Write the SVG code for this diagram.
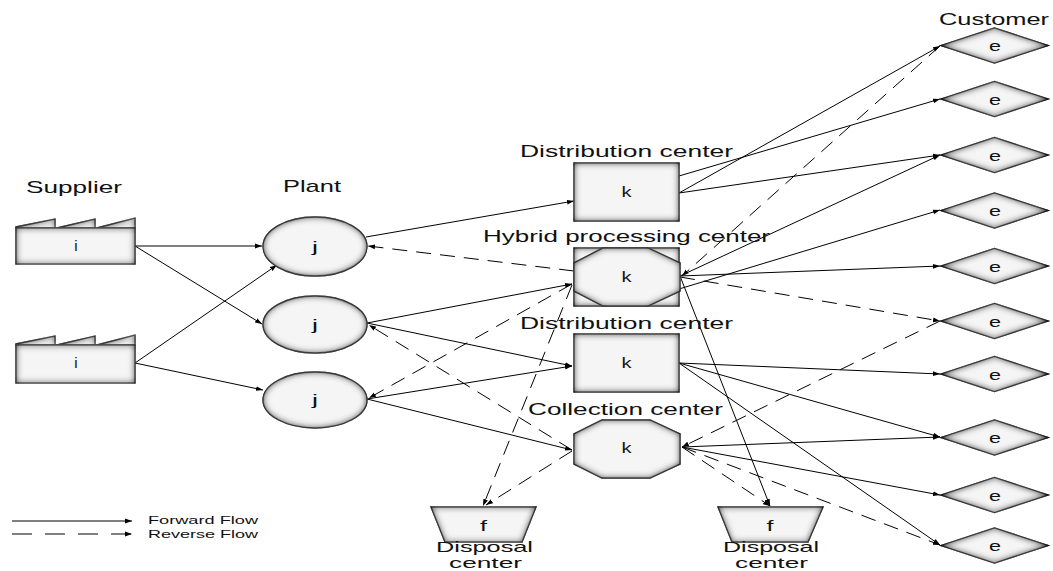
<svg xmlns="http://www.w3.org/2000/svg" width="1053" height="571" viewBox="0 0 1053 571">
  <defs>
    <filter id="inset" x="-10%" y="-10%" width="120%" height="120%">
      <feFlood flood-color="#000" result="c"/>
      <feComposite in="c" in2="SourceAlpha" operator="out" result="outside"/>
      <feGaussianBlur in="outside" stdDeviation="3.5" result="blur"/>
      <feComposite in="blur" in2="SourceAlpha" operator="in" result="shade"/>
      <feMerge>
        <feMergeNode in="SourceGraphic"/>
        <feMergeNode in="shade"/>
        <feMergeNode in="shade"/>
      </feMerge>
    </filter>
    <marker id="arrow" markerUnits="userSpaceOnUse" markerWidth="8" markerHeight="6" refX="7" refY="3" orient="auto">
      <path d="M0,0.6 L7,3 L0,5.4 Z" fill="#000"/>
    </marker>
    <style>
      .shape { fill: #f5f5f5; stroke: #666; stroke-width: 1.3; filter: url(#inset); }
      .edge { fill: none; stroke: #000; stroke-width: 1; }
      .fwd { marker-end: url(#arrow); }
      .rev { stroke-dasharray: 15 9; marker-end: url(#arrow); }
      .title { font-family: "Liberation Sans", Arial, sans-serif; font-size: 17px; fill: #111; }
      .small { font-size: 15px; }
      .lbl { font-family: "Liberation Sans", Arial, sans-serif; font-size: 15px; fill: #111; text-anchor: middle; }
      .legend { font-family: "Liberation Sans", Arial, sans-serif; font-size: 11px; fill: #111; }
    </style>
  </defs>

  <rect width="1053" height="571" fill="#fff"/>

  <!-- connectors -->
  <g id="connectors">
    <!-- suppliers to plants -->
    <path class="edge fwd" d="M135,246 L262,246"/>
    <path class="edge fwd" d="M135,246 L262,324"/>
    <path class="edge fwd" d="M135,363 L277,265"/>
    <path class="edge fwd" d="M135,363 L263,390"/>
    <!-- plants to centers -->
    <path class="edge fwd" d="M366,237 L574,201"/>
    <path class="edge fwd" d="M367,323 L572,284"/>
    <path class="edge fwd" d="M367,323 L572,366"/>
    <path class="edge fwd" d="M367,399 L572,366"/>
    <path class="edge fwd" d="M367,399 L572,450"/>
    <!-- centers to customers -->
    <path class="edge fwd" d="M679,193 L940,46"/>
    <path class="edge fwd" d="M679,176 L940,99"/>
    <path class="edge fwd" d="M679,193 L940,155"/>
    <path class="edge fwd" d="M680,276 L940,155"/>
    <path class="edge fwd" d="M679,289 L940,210"/>
    <path class="edge fwd" d="M680,276 L940,266"/>
    <path class="edge fwd" d="M680,276 L770,506"/>
    <path class="edge fwd" d="M679,363 L940,374"/>
    <path class="edge fwd" d="M679,363 L940,437"/>
    <path class="edge fwd" d="M679,363 L940,545"/>
    <path class="edge fwd" d="M682,447 L940,437"/>
    <path class="edge fwd" d="M682,447 L940,495"/>
    <!-- reverse flows -->
    <path class="edge rev" d="M574,271 L368,246"/>
    <path class="edge rev" d="M572,450 L369,325"/>
    <path class="edge rev" d="M572,284 L369,398"/>
    <path class="edge rev" d="M572,285 L483,506"/>
    <path class="edge rev" d="M572,451 L486,505"/>
    <path class="edge rev" d="M940,46 L682,276"/>
    <path class="edge rev" d="M680,277 L940,321"/>
    <path class="edge rev" d="M940,321 L682,447"/>
    <path class="edge rev" d="M682,447 L940,545"/>
    <path class="edge rev" d="M682,447 L770,506"/>
  </g>

  <!-- suppliers -->
  <g id="supplier-1">
    <path class="shape" d="M16,227 L55,219 L55,228 L57,228 L95,219 L95,228 L97,228 L135,218 L135,228 L16,228 Z"/>
    <rect class="shape" x="16" y="228" width="119" height="36"/>
    <text class="lbl" x="76" y="251">i</text>
  </g>
  <g id="supplier-2">
    <path class="shape" d="M16,344 L55,336 L55,345 L57,345 L95,336 L95,345 L97,345 L135,335 L135,345 L16,345 Z"/>
    <rect class="shape" x="16" y="345" width="119" height="38"/>
    <text class="lbl" x="76" y="368">i</text>
  </g>
  <text class="title" x="26" y="193" textLength="96" lengthAdjust="spacingAndGlyphs">Supplier</text>

  <!-- plants -->
  <g id="plant-1">
    <ellipse class="shape" cx="315" cy="246.5" rx="52" ry="29.5"/>
    <text class="lbl" x="315" y="252" textLength="6" lengthAdjust="spacingAndGlyphs">j</text>
  </g>
  <g id="plant-2">
    <ellipse class="shape" cx="315" cy="324.5" rx="52" ry="28.5"/>
    <text class="lbl" x="315" y="330" textLength="6" lengthAdjust="spacingAndGlyphs">j</text>
  </g>
  <g id="plant-3">
    <ellipse class="shape" cx="315" cy="400" rx="52" ry="28"/>
    <text class="lbl" x="315" y="405" textLength="6" lengthAdjust="spacingAndGlyphs">j</text>
  </g>
  <text class="title" x="283" y="192" textLength="58" lengthAdjust="spacingAndGlyphs">Plant</text>

  <!-- distribution center -->
  <g id="distribution-center-1">
    <text class="title" x="520" y="157" textLength="213" lengthAdjust="spacingAndGlyphs">Distribution center</text>
    <rect class="shape" x="574" y="163" width="105" height="58"/>
    <text class="lbl" x="626.5" y="197" textLength="10" lengthAdjust="spacingAndGlyphs">k</text>
  </g>

  <!-- hybrid processing center -->
  <g id="hybrid-center">
    <text class="title" x="483" y="242" textLength="287" lengthAdjust="spacingAndGlyphs">Hybrid processing center</text>
    <rect class="shape" x="574" y="248" width="105" height="58"/>
    <polygon class="shape" points="603,248 648,248 680,263 680,291 648,306 603,306 574,291 574,263"/>
    <text class="lbl" x="626.5" y="282" textLength="10" lengthAdjust="spacingAndGlyphs">k</text>
  </g>

  <!-- distribution center -->
  <g id="distribution-center-2">
    <text class="title" x="520" y="329" textLength="213" lengthAdjust="spacingAndGlyphs">Distribution center</text>
    <rect class="shape" x="574" y="334" width="105" height="58"/>
    <text class="lbl" x="626.5" y="368" textLength="10" lengthAdjust="spacingAndGlyphs">k</text>
  </g>

  <!-- collection center -->
  <g id="collection-center">
    <text class="title" x="528" y="415" textLength="195" lengthAdjust="spacingAndGlyphs">Collection center</text>
    <polygon class="shape" points="602,420 650,420 680,434 680,464 650,478 602,478 574,464 574,434"/>
    <text class="lbl" x="626.5" y="453" textLength="10" lengthAdjust="spacingAndGlyphs">k</text>
  </g>

  <!-- disposal centers -->
  <g id="disposal-1">
    <polygon class="shape" points="431,507 536,507 522,542 445,542"/>
    <text class="lbl" x="483.5" y="531" textLength="7" lengthAdjust="spacingAndGlyphs">f</text>
    <text class="title small" x="436" y="552" textLength="97" lengthAdjust="spacingAndGlyphs">Disposal</text>
    <text class="title small" x="449" y="567.5" textLength="73" lengthAdjust="spacingAndGlyphs">center</text>
  </g>
  <g id="disposal-2">
    <polygon class="shape" points="718,507 823,507 808,542 732,542"/>
    <text class="lbl" x="770" y="531" textLength="7" lengthAdjust="spacingAndGlyphs">f</text>
    <text class="title small" x="723" y="552" textLength="96" lengthAdjust="spacingAndGlyphs">Disposal</text>
    <text class="title small" x="735" y="567.5" textLength="73" lengthAdjust="spacingAndGlyphs">center</text>
  </g>

  <!-- customers -->
  <text class="title" x="939" y="25" textLength="110" lengthAdjust="spacingAndGlyphs">Customer</text>
  <g id="customer-1">
    <polygon class="shape" points="941,45.5 994.5,28 1048,45.5 994.5,63"/>
    <text class="lbl" x="995" y="51" textLength="12" lengthAdjust="spacingAndGlyphs">e</text>
  </g>
  <g id="customer-2">
    <polygon class="shape" points="941,99 994.5,81.5 1048,99 994.5,116.5"/>
    <text class="lbl" x="995" y="104.5" textLength="12" lengthAdjust="spacingAndGlyphs">e</text>
  </g>
  <g id="customer-3">
    <polygon class="shape" points="941,155 994.5,137.5 1048,155 994.5,172.5"/>
    <text class="lbl" x="995" y="160.5" textLength="12" lengthAdjust="spacingAndGlyphs">e</text>
  </g>
  <g id="customer-4">
    <polygon class="shape" points="941,210.5 994.5,193 1048,210.5 994.5,228"/>
    <text class="lbl" x="995" y="216" textLength="12" lengthAdjust="spacingAndGlyphs">e</text>
  </g>
  <g id="customer-5">
    <polygon class="shape" points="941,266 994.5,248.5 1048,266 994.5,283.5"/>
    <text class="lbl" x="995" y="271.5" textLength="12" lengthAdjust="spacingAndGlyphs">e</text>
  </g>
  <g id="customer-6">
    <polygon class="shape" points="941,321 994.5,303.5 1048,321 994.5,338.5"/>
    <text class="lbl" x="995" y="326.5" textLength="12" lengthAdjust="spacingAndGlyphs">e</text>
  </g>
  <g id="customer-7">
    <polygon class="shape" points="941,374 994.5,356.5 1048,374 994.5,391.5"/>
    <text class="lbl" x="995" y="379.5" textLength="12" lengthAdjust="spacingAndGlyphs">e</text>
  </g>
  <g id="customer-8">
    <polygon class="shape" points="941,437.5 994.5,420 1048,437.5 994.5,455"/>
    <text class="lbl" x="995" y="443" textLength="12" lengthAdjust="spacingAndGlyphs">e</text>
  </g>
  <g id="customer-9">
    <polygon class="shape" points="941,495 994.5,477.5 1048,495 994.5,512.5"/>
    <text class="lbl" x="995" y="500.5" textLength="12" lengthAdjust="spacingAndGlyphs">e</text>
  </g>
  <g id="customer-10">
    <polygon class="shape" points="941,545.5 994.5,528 1048,545.5 994.5,563"/>
    <text class="lbl" x="995" y="551" textLength="12" lengthAdjust="spacingAndGlyphs">e</text>
  </g>

  <!-- legend -->
  <g id="legend">
    <path class="edge fwd" d="M12,521 L132,521"/>
    <path class="edge" d="M12,534 L132,534" stroke-dasharray="20 13" marker-end="url(#arrow)"/>
    <text class="legend" x="148" y="524" textLength="110" lengthAdjust="spacingAndGlyphs">Forward Flow</text>
    <text class="legend" x="148" y="538" textLength="110" lengthAdjust="spacingAndGlyphs">Reverse Flow</text>
  </g>
</svg>
